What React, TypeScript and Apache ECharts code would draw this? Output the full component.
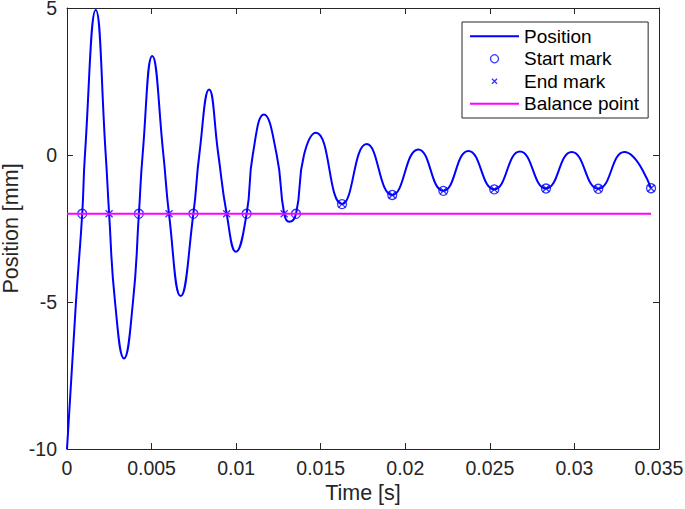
import React, { useEffect, useRef } from "react";
import * as echarts from "echarts";

// Position curve (time in s, position in mm)
const timeS = [
  0, 0.00053, 0.0009, 0.00106, 0.0017, 0.00229, 0.00249, 0.00284, 0.00337,
  0.0039, 0.00425, 0.00447, 0.00504, 0.0057, 0.00603, 0.00672, 0.00747,
  0.00782, 0.0084, 0.00895, 0.00944, 0.00999, 0.01062, 0.01098, 0.01164,
  0.0124, 0.01284, 0.01314, 0.01354, 0.01401, 0.01472, 0.01626, 0.01772,
  0.01923, 0.02077, 0.02225, 0.02373, 0.02526, 0.02678, 0.02832, 0.02984,
  0.03141, 0.03295, 0.03453,
];
const positionMm = [
  -10, -5, -2, 0, 4.93, 0, -2, -5, -6.92,
  -5, -2, 0, 3.37, 0, -2, -4.8, -2,
  0, 2.23, 0, -2, -3.29, -2, 0, 1.38,
  0, -2, -2.27, -2, 0, 0.76, -1.67, 0.37,
  -1.36, 0.19, -1.22, 0.14, -1.17, 0.12, -1.14, 0.1,
  -1.15, 0.1, -1.13,
];

const startT = [0.0009, 0.00425, 0.00747, 0.01062, 0.01354, 0.01626, 0.01923, 0.02225, 0.02526, 0.02832, 0.03141, 0.03453];
const startV = [-2, -2, -2, -2, -2, -1.67, -1.36, -1.22, -1.17, -1.14, -1.15, -1.13];
const endT = [0.00249, 0.00603, 0.00944, 0.01284, 0.01626, 0.01923, 0.02225, 0.02526, 0.02832, 0.03141, 0.03453];
const endV = [-2, -2, -2, -2, -1.67, -1.36, -1.22, -1.17, -1.14, -1.15, -1.13];

const balanceT = [0, 0.03453];
const balanceValue = -2;

const seriesNames = ["Position", "Start mark", "End mark", "Balance point"];
const xTitle = "Time [s]";
const yTitle = "Position [mm]";

const font = "'Liberation Sans', Arial, Helvetica, sans-serif";
const axisColor = "#262626";
const xMark = "path://M0,0L10,10M10,0L0,10";
const xMarkLegend = "path://M-3,-3M0,0L10,10M10,0L0,10M13,13";

function zip(a: number[], b: number[]) {
  return a.map((v, i) => [v, b[i]]);
}

export default function App() {
  const ref = useRef<HTMLDivElement>(null);
  useEffect(() => {
    const chart = echarts.init(ref.current!, null, { renderer: "svg" });
    const fmt = (v: number) => String(parseFloat(v.toFixed(4)));
    const baseX = {
      type: "value" as const,
      min: 0,
      max: 0.035,
      interval: 0.005,
      splitLine: { show: false },
      axisLine: { show: true, onZero: false, lineStyle: { color: axisColor, width: 1 } },
      axisTick: { show: true, inside: true, length: 6, lineStyle: { color: axisColor, width: 1 } },
    };
    const baseY = {
      type: "value" as const,
      min: -10,
      max: 5,
      interval: 5,
      splitLine: { show: false },
      axisLine: { show: true, onZero: false, lineStyle: { color: axisColor, width: 1 } },
      axisTick: { show: true, inside: true, length: 6, lineStyle: { color: axisColor, width: 1 } },
    };
    const hiddenSymbol = { color: "rgba(0,0,0,0)", opacity: 0, borderWidth: 0 };
    chart.setOption({
      animation: false,
      backgroundColor: "#ffffff",
      grid: { left: 67, top: 8, right: 26, bottom: 60, containLabel: false, outerBoundsMode: "none" },
      xAxis: [
        {
          ...baseX,
          position: "bottom",
          name: xTitle,
          nameLocation: "middle",
          nameGap: 33,
          nameMoveOverlap: false,
          nameTextStyle: { fontFamily: font, fontSize: 21.5, color: axisColor },
          axisLabel: { margin: 9, fontFamily: font, fontSize: 19.5, color: axisColor, formatter: fmt },
        },
        { ...baseX, position: "top", axisLabel: { show: false } },
      ],
      yAxis: [
        {
          ...baseY,
          position: "left",
          name: yTitle,
          nameLocation: "middle",
          nameGap: 45,
          nameMoveOverlap: false,
          nameTextStyle: { fontFamily: font, fontSize: 21.5, color: axisColor },
          axisLabel: { margin: 10, fontFamily: font, fontSize: 19.5, lineHeight: 16, color: axisColor, formatter: fmt },
        },
        { ...baseY, position: "right", axisLabel: { show: false } },
      ],
      legend: {
        orient: "vertical",
        left: 462,
        top: 22,
        padding: [3, 9, 3, 7],
        itemGap: 0,
        itemWidth: 49,
        itemHeight: 8,
        borderColor: axisColor,
        borderWidth: 1,
        borderRadius: 0,
        backgroundColor: "#ffffff",
        selectedMode: false,
        textStyle: { fontFamily: font, fontSize: 19, lineHeight: 22.5, color: "#000000" },
        data: [
          { name: seriesNames[0], itemStyle: hiddenSymbol },
          { name: seriesNames[1], itemStyle: { borderWidth: 1.3 } },
          { name: seriesNames[2], icon: xMarkLegend, itemStyle: { borderWidth: 1.3 } },
          { name: seriesNames[3], itemStyle: hiddenSymbol },
        ],
      },
      series: [
        {
          name: seriesNames[0],
          type: "line",
          data: zip(timeS, positionMm),
          smooth: true,
          symbol: "none",
          lineStyle: { color: "#0000ff", width: 2 },
          itemStyle: { color: "#0000ff" },
        },
        {
          name: seriesNames[1],
          type: "scatter",
          data: zip(startT, startV),
          symbol: "circle",
          symbolSize: 9,
          itemStyle: { color: "rgba(0,0,0,0)", borderColor: "#0000ff", borderWidth: 1.3 },
        },
        {
          name: seriesNames[2],
          type: "scatter",
          data: zip(endT, endV),
          symbol: xMark,
          symbolSize: 7,
          itemStyle: { color: "rgba(0,0,0,0)", borderColor: "#0000ff", borderWidth: 1.3 },
        },
        {
          name: seriesNames[3],
          type: "line",
          data: balanceT.map((t) => [t, balanceValue]),
          symbol: "none",
          lineStyle: { color: "#ff00ff", width: 2 },
          itemStyle: { color: "#ff00ff" },
        },
      ],
    });
    return () => chart.dispose();
  }, []);
  return (
    <div
      ref={ref}
      style={{ position: "fixed", left: 0, top: 0, width: 685, height: 509, background: "#fff" }}
    />
  );
}
